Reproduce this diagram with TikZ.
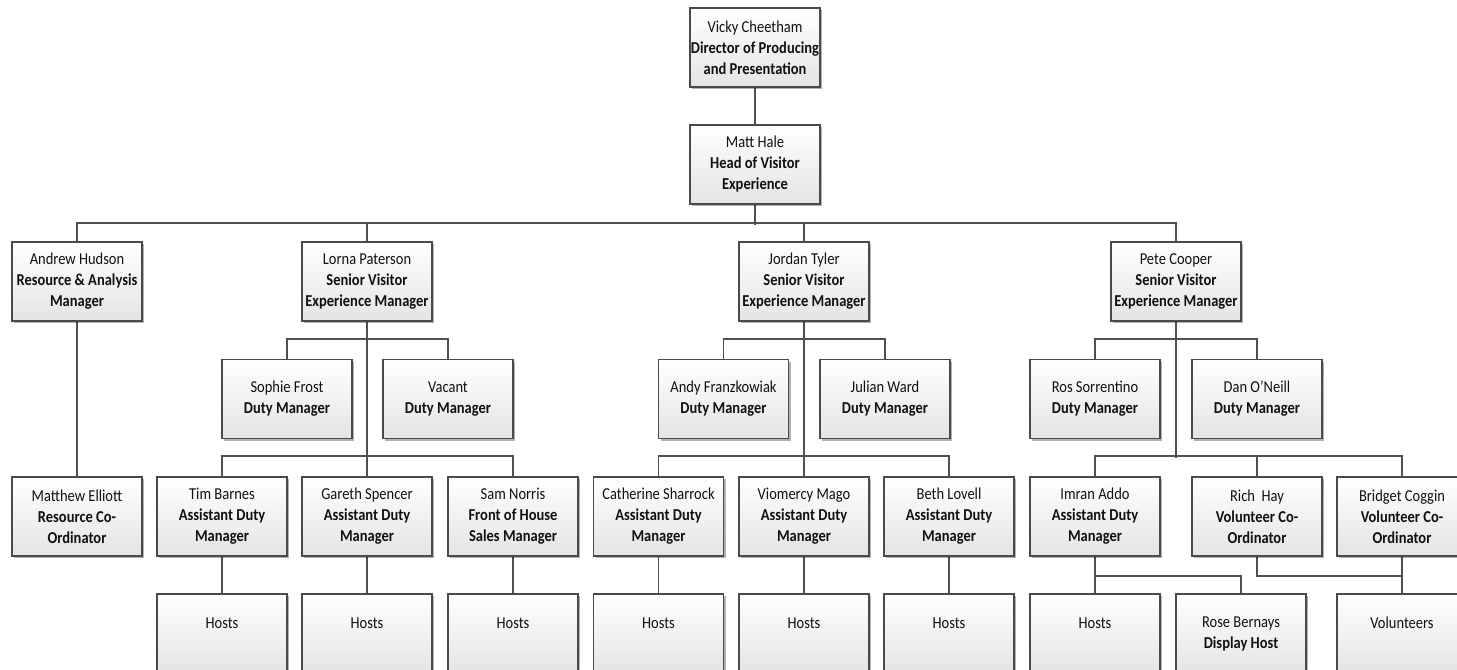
\documentclass[tikz,border=0pt]{standalone}
\usepackage{fontspec}
\setmainfont{Carlito}[FakeStretch=0.87]
\usetikzlibrary{shadows,backgrounds}
\definecolor{boxborder}{HTML}{4A4A4A}
\definecolor{boxbot}{HTML}{E4E4E4}
\definecolor{conncol}{HTML}{505050}
\definecolor{txt}{HTML}{111111}
\tikzset{
  orgbox/.style={draw=boxborder, line width=1.1pt, top color=white, bottom color=boxbot,
    minimum width=97.5pt, minimum height=59.25pt, inner sep=0pt, align=center,
    text=txt, font=\fontsize{12.5}{15.75}\selectfont,
    drop shadow={shadow xshift=1.6pt, shadow yshift=-1.6pt, fill=black, opacity=0.3}},
  conn/.style={draw=conncol, line width=1.2pt}
}
\begin{document}
\begin{tikzpicture}[x=0.75pt,y=-0.75pt]
\useasboundingbox (0,0) rectangle (1457,670);
% level 1-2
\node[orgbox] (vicky) at (755,47.5) {Vicky Cheetham\\\textbf{Director of Producing}\\\textbf{and Presentation}};
\node[orgbox] (matt) at (755,164.5) {Matt Hale\\\textbf{Head of Visitor}\\\textbf{Experience}};
% level 3
\node[orgbox] (andrew) at (77,281.5) {Andrew Hudson\\\textbf{Resource \& Analysis}\\\textbf{Manager}};
\node[orgbox] (lorna) at (367,281.5) {Lorna Paterson\\\textbf{Senior Visitor}\\\textbf{Experience Manager}};
\node[orgbox] (jordan) at (804,281.5) {Jordan Tyler\\\textbf{Senior Visitor}\\\textbf{Experience Manager}};
\node[orgbox] (pete) at (1176,281.5) {Pete Cooper\\\textbf{Senior Visitor}\\\textbf{Experience Manager}};
% duty managers
\node[orgbox] (sophie) at (287,399) {Sophie Frost\\\textbf{Duty Manager}};
\node[orgbox] (vacant) at (448,399) {Vacant\\\textbf{Duty Manager}};
\node[orgbox] (andy) at (723.5,399) {Andy Franzkowiak\\\textbf{Duty Manager}};
\node[orgbox] (julian) at (885,399) {Julian Ward\\\textbf{Duty Manager}};
\node[orgbox] (ros) at (1095,399) {Ros Sorrentino\\\textbf{Duty Manager}};
\node[orgbox] (dan) at (1257,399) {Dan O'Neill\\\textbf{Duty Manager}};
% level 4
\node[orgbox] (elliott) at (77,516.5) {Matthew Elliott\\\textbf{Resource Co-}\\\textbf{Ordinator}};
\node[orgbox] (tim) at (222,516.5) {Tim Barnes\\\textbf{Assistant Duty}\\\textbf{Manager}};
\node[orgbox] (gareth) at (367,516.5) {Gareth Spencer\\\textbf{Assistant Duty}\\\textbf{Manager}};
\node[orgbox] (sam) at (513,516.5) {Sam Norris\\\textbf{Front of House}\\\textbf{Sales Manager}};
\node[orgbox] (catherine) at (658.5,516.5) {Catherine Sharrock\\\textbf{Assistant Duty}\\\textbf{Manager}};
\node[orgbox] (viomercy) at (804,516.5) {Viomercy Mago\\\textbf{Assistant Duty}\\\textbf{Manager}};
\node[orgbox] (beth) at (949,516.5) {Beth Lovell\\\textbf{Assistant Duty}\\\textbf{Manager}};
\node[orgbox] (imran) at (1095,516.5) {Imran Addo\\\textbf{Assistant Duty}\\\textbf{Manager}};
\node[orgbox] (rich) at (1257,516.5) {Rich\ \ Hay\\\textbf{Volunteer Co-}\\\textbf{Ordinator}};
\node[orgbox] (bridget) at (1402,516.5) {Bridget Coggin\\\textbf{Volunteer Co-}\\\textbf{Ordinator}};
% level 5
\node[orgbox] (hostsA) at (222,633.5) {Hosts\\\mbox{}};
\node[orgbox] (hostsB) at (367,633.5) {Hosts\\\mbox{}};
\node[orgbox] (hostsC) at (513,633.5) {Hosts\\\mbox{}};
\node[orgbox] (hostsD) at (658.5,633.5) {Hosts\\\mbox{}};
\node[orgbox] (hostsE) at (804,633.5) {Hosts\\\mbox{}};
\node[orgbox] (hostsF) at (949,633.5) {Hosts\\\mbox{}};
\node[orgbox] (hostsG) at (1095,633.5) {Hosts\\\mbox{}};
\node[orgbox] (rose) at (1241,633.5) {Rose Bernays\\\textbf{Display Host}};
\node[orgbox] (vol) at (1402,633.5) {Volunteers\\\mbox{}};
% connectors
\begin{scope}[on background layer]
\draw[conn] (vicky.south) -- (matt.north);
\draw[conn] (matt.south) -- ++(0,20);
\draw[conn] (andrew.north) -- ++(0,-18) -| (pete.north);
\draw[conn] (lorna.north) -- ++(0,-18);
\draw[conn] (jordan.north) -- ++(0,-18);
\draw[conn] (andrew.south) -- (elliott.north);
% Lorna
\draw[conn] (lorna.south) -- (gareth.north);
\draw[conn] (sophie.north) -- ++(0,-20) -| (vacant.north);
\draw[conn] (tim.north) -- ++(0,-20) -| (sam.north);
% Jordan
\draw[conn] (jordan.south) -- (viomercy.north);
\draw[conn] (andy.north) -- ++(0,-20) -| (julian.north);
\draw[conn] (catherine.north) -- ++(0,-20) -| (beth.north);
% Pete
\draw[conn] (pete.south) -- ++(0,136);
\draw[conn] (ros.north) -- ++(0,-20) -| (dan.north);
\draw[conn] (imran.north) -- ++(0,-20) -| (bridget.north);
\draw[conn] (rich.north) -- ++(0,-20);
% level 5
\draw[conn] (tim.south) -- (hostsA.north);
\draw[conn] (gareth.south) -- (hostsB.north);
\draw[conn] (sam.south) -- (hostsC.north);
\draw[conn] (catherine.south) -- (hostsD.north);
\draw[conn] (viomercy.south) -- (hostsE.north);
\draw[conn] (beth.south) -- (hostsF.north);
\draw[conn] (imran.south) -- (hostsG.north);
\draw[conn] (imran.south) -- ++(0,19) -| (rose.north);
\draw[conn] (rich.south) -- ++(0,19) -| (bridget.south);
\draw[conn] (bridget.south) -- (vol.north);
\end{scope}
\end{tikzpicture}
\end{document}
